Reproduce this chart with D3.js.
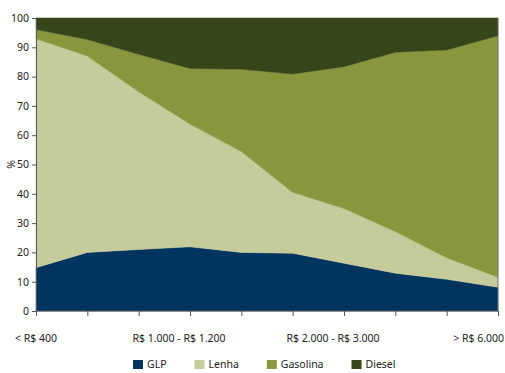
<!DOCTYPE html>
<html lang="pt">
<head>
    <meta charset="UTF-8"/>
    <title>Combustível por faixa de renda</title>
    <script src="https://d3js.org/d3.v7.min.js"></script>
    <style>
        html, body {
            margin: 0;
            padding: 0;
            background: #fff;
        }
        svg text {
            font-family: "Noto Sans", "Open Sans", sans-serif;
            fill: #222;
        }
    </style>
</head>
<body>
    <div id="chart"></div>
    <script>
        var w = 505;
        var h = 373;

        // faixas de renda (only every 3rd is labelled on the axis)
        var categories = [
            "< R$ 400", "R$ 400 - R$ 600", "R$ 600 - R$ 1.000",
            "R$ 1.000 - R$ 1.200", "R$ 1.200 - R$ 1.600", "R$ 1.600 - R$ 2.000",
            "R$ 2.000 - R$ 3.000", "R$ 3.000 - R$ 4.000", "R$ 4.000 - R$ 6.000",
            "> R$ 6.000"
        ];
        var seriesNames = ["GLP", "Lenha", "Gasolina", "Diesel"];
        var glp      = [14.8, 20.0, 21.0, 21.9, 20.0, 19.7, 16.3, 12.9, 10.8, 8.1];
        var lenha    = [78.1, 67.0, 53.8, 41.9, 34.4, 20.8, 18.7, 14.2, 7.4, 3.4];
        var gasolina = [3.2, 5.7, 12.8, 19.0, 28.1, 40.4, 48.4, 61.2, 70.9, 82.4];
        var diesel   = [3.9, 7.3, 12.4, 17.2, 17.5, 19.1, 16.6, 11.7, 10.9, 6.1];
        var yTicks = [0, 10, 20, 30, 40, 50, 60, 70, 80, 90, 100];
        var colors = ["#013560", "#c6cb9b", "#8a963e", "#37461a"];

        var margin = {top: 18, right: 7, bottom: 62, left: 36};

        // table for d3.stack
        var table = categories.map(function(c, i) {
            return {cat: c, GLP: glp[i], Lenha: lenha[i], Gasolina: gasolina[i], Diesel: diesel[i]};
        });

        var svg = d3.select("#chart")
                    .append("svg")
                    .attr("width", w)
                    .attr("height", h);

        var x = d3.scalePoint()
                  .domain(categories)
                  .range([margin.left, w - margin.right]);

        var y = d3.scaleLinear()
                  .domain([0, 100])
                  .range([h - margin.bottom, margin.top]);

        var stacked = d3.stack().keys(seriesNames)(table);

        var area = d3.area()
                     .x(function(d) { return x(d.data.cat); })
                     .y0(function(d) { return y(d[0]); })
                     .y1(function(d) { return y(d[1]); });

        svg.selectAll("path.layer")
            .data(stacked)
            .enter()
            .append("path")
            .attr("class", "layer")
            .attr("d", area)
            .attr("fill", function(d, i) { return colors[i]; })
            .attr("stroke", function(d, i) { return colors[i]; })
            .attr("stroke-width", 0.5);

        // right border of plot
        svg.append("line")
            .attr("x1", w - margin.right).attr("x2", w - margin.right)
            .attr("y1", margin.top).attr("y2", h - margin.bottom)
            .attr("stroke", "#777").attr("stroke-width", 1);

        // y axis
        var yAxis = svg.append("g")
            .attr("transform", "translate(" + margin.left + ",0)")
            .call(d3.axisLeft(y).tickValues(yTicks).tickSize(4).tickPadding(3));
        yAxis.selectAll("line, path").attr("stroke", "#555");
        yAxis.selectAll("text").style("font-size", "10.5px").attr("fill", "#222");

        // x axis: ticks at every category, label every third
        var xAxis = svg.append("g")
            .attr("transform", "translate(0," + (h - margin.bottom) + ")")
            .call(d3.axisBottom(x).tickSize(5).tickFormat(""));
        xAxis.select(".domain").attr("d", "M" + margin.left + ",0H" + (w - margin.right));
        xAxis.selectAll("line, path").attr("stroke", "#555");

        svg.selectAll("text.xlab")
            .data(categories.filter(function(c, i) { return i % 3 === 0; }))
            .enter()
            .append("text")
            .attr("class", "xlab")
            .attr("x", function(d, i, nodes) {
                if (i === 0) return x(d);
                if (i === nodes.length - 1) return w - 1;
                return x(d) - 11;
            })
            .attr("y", h - margin.bottom + 31)
            .attr("text-anchor", function(d, i, nodes) {
                return i === nodes.length - 1 ? "end" : "middle";
            })
            .style("font-size", "10.5px")
            .text(function(d) { return d; });

        // y label
        svg.append("text")
            .attr("transform", "translate(15," + y(50) + ") rotate(-90)")
            .attr("text-anchor", "middle")
            .style("font-size", "10.5px")
            .text("%");

        // legend
        var legend = svg.append("g").attr("transform", "translate(133," + (h - 13) + ")");
        var lx = 0;
        seriesNames.forEach(function(name, i) {
            var g = legend.append("g").attr("transform", "translate(" + lx + ",0)");
            g.append("rect")
                .attr("x", 0).attr("y", 0)
                .attr("width", 10).attr("height", 9)
                .attr("fill", colors[i]);
            var t = g.append("text")
                .attr("x", 14).attr("y", 8)
                .style("font-size", "10.5px")
                .text(name);
            lx += 14 + t.node().getComputedTextLength() + 28;
        });
    </script>
</body>
</html>
